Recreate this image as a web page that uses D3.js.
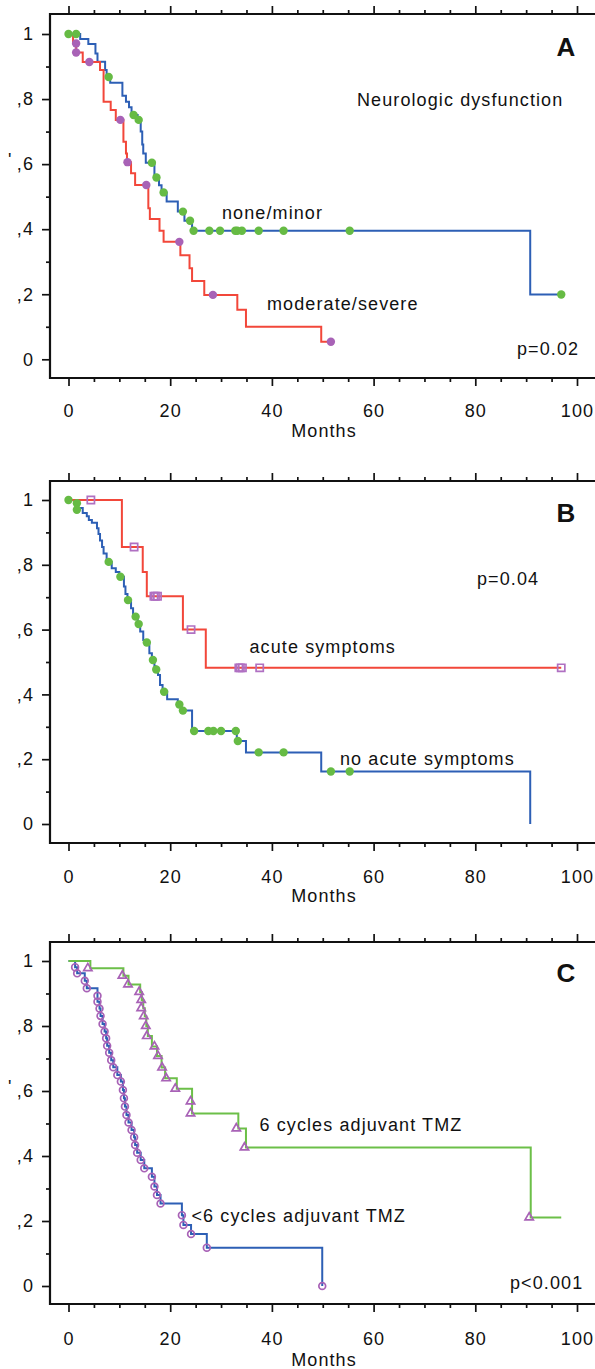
<!DOCTYPE html>
<html><head><meta charset="utf-8">
<script src="https://cdn.jsdelivr.net/npm/d3@7"></script>
<style>
html,body{margin:0;padding:0;background:#fff;}
svg{display:block;font-family:"Liberation Sans",Arial,Helvetica,sans-serif;}
</style></head><body>
<svg id="chart" width="595" height="1369"></svg>
<script>
// ---------- tick labels ----------
const xMajor = [0, 20, 40, 60, 80, 100];
const xTickLabels = ["0", "20", "40", "60", "80", "100"];
const xMinor = [5, 10, 15, 25, 30, 35, 45, 50, 55, 65, 70, 75, 85, 90, 95];
const yMajor = [0, 0.2, 0.4, 0.6, 0.8, 1];
const yTickLabels = ["0", ",2", ",4", ",6", ",8", "1"];
const yMinor = [0.1, 0.3, 0.5, 0.7, 0.9];
const xTitle = "Months";

// ---------- Panel A: neurologic dysfunction ----------
const aNoneT = [0, 2.3, 3.9, 5.3, 5.7, 7.2, 7.5, 8.2, 10.6, 11.3, 11.9, 12.4, 13.6, 14.2, 14.5, 14.7, 15.2, 16.9, 17.8, 18.3, 19.3, 21.5, 22.8, 24.3, 90.8, 96.9];
const aNoneS = [1, 0.985, 0.969, 0.94, 0.915, 0.889, 0.868, 0.85, 0.81, 0.792, 0.775, 0.751, 0.736, 0.70, 0.66, 0.633, 0.604, 0.559, 0.535, 0.513, 0.485, 0.454, 0.426, 0.395, 0.199, 0.199];
const aNoneCensT = [0, 1.5, 7.9, 12.8, 13.8, 16.4, 17.3, 18.7, 22.5, 23.9, 24.6, 27.7, 29.8, 32.8, 33.2, 34.1, 37.4, 42.3, 55.3, 96.9];
const aNoneCensS = [1, 1, 0.868, 0.751, 0.736, 0.604, 0.559, 0.513, 0.454, 0.426, 0.395, 0.395, 0.395, 0.395, 0.395, 0.395, 0.395, 0.395, 0.395, 0.199];
const aModT = [0, 0.9, 1.5, 2.8, 6.2, 6.9, 8.3, 9.3, 10.8, 11.3, 11.5, 12.3, 13.1, 15.7, 16.0, 17.9, 18.7, 22.0, 23.8, 24.3, 26.7, 33.2, 34.9, 49.7, 51.6];
const aModS = [1, 0.971, 0.943, 0.914, 0.889, 0.792, 0.766, 0.736, 0.669, 0.633, 0.606, 0.572, 0.536, 0.464, 0.431, 0.395, 0.361, 0.32, 0.28, 0.241, 0.198, 0.152, 0.1, 0.054, 0.054];
const aModCensT = [1.5, 1.5, 4.1, 10.2, 11.6, 15.3, 21.8, 28.4, 51.6];
const aModCensS = [0.971, 0.943, 0.914, 0.736, 0.606, 0.536, 0.361, 0.198, 0.054];

// ---------- Panel B: acute symptoms ----------
const bNoT = [0, 1.2, 1.6, 2.8, 3.6, 4.0, 4.6, 5.6, 5.9, 6.2, 6.6, 6.9, 7.5, 8.5, 9.3, 10.0, 10.9, 11.2, 11.6, 12.3, 12.7, 13.6, 14.1, 14.7, 15.2, 15.9, 16.4, 16.9, 17.1, 17.6, 18.0, 18.5, 19.4, 21.5, 22.2, 24.3, 33.1, 34.9, 49.7, 90.8];
const bNoS = [1, 0.99, 0.975, 0.96, 0.95, 0.938, 0.93, 0.913, 0.895, 0.875, 0.855, 0.835, 0.809, 0.789, 0.778, 0.763, 0.733, 0.71, 0.691, 0.666, 0.64, 0.617, 0.594, 0.568, 0.56, 0.527, 0.506, 0.487, 0.477, 0.46, 0.429, 0.408, 0.385, 0.369, 0.35, 0.287, 0.256, 0.221, 0.162, 0];
const bNoCensT = [0, 1.65, 1.65, 7.9, 10.2, 11.7, 13.2, 13.8, 15.4, 16.6, 17.25, 18.8, 21.8, 22.5, 24.7, 27.5, 28.5, 30.0, 32.9, 33.3, 37.4, 42.3, 51.6, 55.3];
const bNoCensS = [1, 0.99, 0.97, 0.809, 0.763, 0.691, 0.64, 0.617, 0.56, 0.506, 0.477, 0.408, 0.369, 0.35, 0.287, 0.287, 0.287, 0.287, 0.287, 0.256, 0.221, 0.221, 0.162, 0.162];
const bAcuteT = [0, 10.5, 14.6, 15.4, 22.5, 27.0, 96.9];
const bAcuteS = [1, 0.855, 0.778, 0.703, 0.6, 0.482, 0.482];
const bAcuteCensT = [4.4, 12.9, 16.8, 17.1, 17.5, 24.1, 33.5, 33.8, 34.2, 37.6, 96.9];
const bAcuteCensS = [1, 0.855, 0.703, 0.703, 0.703, 0.6, 0.482, 0.482, 0.482, 0.482, 0.482];

// ---------- Panel C: adjuvant TMZ cycles ----------
const c6T = [0, 4.3, 10.8, 11.8, 14.1, 14.4, 14.7, 15.0, 15.3, 15.6, 16.4, 17.4, 18.3, 19.0, 21.3, 24.3, 33.4, 34.9, 90.9, 96.9];
const c6S = [1, 0.978, 0.955, 0.928, 0.905, 0.88, 0.855, 0.83, 0.8, 0.769, 0.737, 0.708, 0.672, 0.639, 0.607, 0.531, 0.485, 0.426, 0.211, 0.211];
const c6CensT = [3.8, 10.6, 11.7, 13.9, 14.3, 14.3, 14.8, 15.2, 15.4, 16.9, 17.6, 18.4, 19.2, 21.0, 24.0, 24.0, 33.0, 34.6, 90.6];
const c6CensS = [0.978, 0.955, 0.928, 0.905, 0.88, 0.855, 0.83, 0.8, 0.769, 0.737, 0.708, 0.672, 0.639, 0.607, 0.568, 0.531, 0.485, 0.426, 0.211];
const cLtT = [0, 1.3, 1.7, 3.2, 3.6, 5.7, 5.7, 6.1, 6.3, 6.7, 7.1, 7.4, 7.6, 8.0, 8.4, 8.8, 9.6, 10.3, 10.7, 10.9, 11.1, 11.4, 11.8, 12.4, 12.9, 13.1, 13.5, 14.2, 14.9, 16.4, 16.9, 17.4, 18.1, 22.3, 22.6, 24.1, 27.2, 49.9];
const cLtS = [1, 0.981, 0.962, 0.939, 0.916, 0.893, 0.875, 0.854, 0.831, 0.806, 0.783, 0.762, 0.739, 0.718, 0.695, 0.673, 0.649, 0.629, 0.603, 0.578, 0.552, 0.526, 0.503, 0.48, 0.458, 0.434, 0.41, 0.388, 0.362, 0.336, 0.306, 0.28, 0.254, 0.218, 0.188, 0.16, 0.118, 0];

// ---------- colours ----------
const BLUE = "#2d5fb5", RED = "#f2473a", GREEN_LINE = "#6cbf48", GREEN_DOT = "#66bb44", PURPLE = "#a862b6";

const svg = d3.select("#chart");
const x = d3.scaleLinear().domain([0, 100]).range([68.5, 577]);
const FONT = 18, LS = 1.1;

const zip = (T, S) => T.map((t, i) => [t, S[i]]);

const panels = [
  { top: 14, bottom: 378, y0: 359.3, y1: 34, tickBase: 417, monthsBase: 436.5, letter: "A", letterY: 56, mark: true,
    lines: [{ d: zip(aNoneT, aNoneS), c: BLUE }, { d: zip(aModT, aModS), c: RED }],
    marks: [{ d: zip(aNoneCensT, aNoneCensS), type: "dot", c: GREEN_DOT }, { d: zip(aModCensT, aModCensS), type: "dot", c: PURPLE }],
    texts: [["Neurologic dysfunction", 357, 106], ["none/minor", 222, 219], ["moderate/severe", 267, 310], ["p=0.02", 517, 355]] },
  { top: 481, bottom: 843, y0: 824, y1: 500, tickBase: 883, monthsBase: 902, letter: "B", letterY: 522, mark: false,
    lines: [{ d: zip(bNoT, bNoS), c: BLUE }, { d: zip(bAcuteT, bAcuteS), c: RED }],
    marks: [{ d: zip(bNoCensT, bNoCensS), type: "dot", c: GREEN_DOT }, { d: zip(bAcuteCensT, bAcuteCensS), type: "square", c: "#b070c2" }],
    texts: [["p=0.04", 477, 585], ["acute symptoms", 249.5, 653], ["no acute symptoms", 340, 765]] },
  { top: 942, bottom: 1304, y0: 1286, y1: 961, tickBase: 1345, monthsBase: 1366, letter: "C", letterY: 982, mark: true,
    lines: [{ d: zip(cLtT, cLtS), c: BLUE }, { d: zip(c6T, c6S), c: GREEN_LINE }],
    marks: [{ d: zip(cLtT, cLtS).slice(1), type: "ring", c: PURPLE }, { d: zip(c6CensT, c6CensS), type: "tri", c: PURPLE }],
    texts: [["6 cycles adjuvant TMZ", 259.5, 1131], ["<6 cycles adjuvant TMZ", 191.5, 1222], ["p<0.001", 510, 1289]] }
];

function styleAxis(g) {
  g.attr("font-size", null).attr("font-family", null);
  g.select(".domain").remove();
  g.selectAll(".tick line").attr("stroke", "#111").attr("stroke-width", 1.7);
}

panels.forEach(p => {
  const g = svg.append("g");
  const y = d3.scaleLinear().domain([0, 1]).range([p.y0, p.y1]);

  // frame lines
  g.append("line").attr("x1", 50).attr("x2", 50).attr("y1", p.top - 1).attr("y2", p.bottom + 1).attr("stroke", "#111").attr("stroke-width", 2.2);
  g.append("line").attr("x1", 49).attr("x2", 595).attr("y1", p.top).attr("y2", p.top).attr("stroke", "#111").attr("stroke-width", 2.2);
  g.append("line").attr("x1", 49).attr("x2", 595).attr("y1", p.bottom).attr("y2", p.bottom).attr("stroke", "#111").attr("stroke-width", 2.2);

  // bottom axis
  const bm = g.append("g").attr("transform", `translate(0,${p.bottom})`)
    .call(d3.axisBottom(x).tickValues(xMajor).tickSize(8).tickFormat((d, i) => xTickLabels[i]));
  styleAxis(bm);
  bm.selectAll("text").attr("y", p.tickBase - p.bottom).attr("dy", null)
    .attr("fill", "#111").style("font-size", FONT + "px").style("letter-spacing", LS + "px");
  const bn = g.append("g").attr("transform", `translate(0,${p.bottom})`)
    .call(d3.axisBottom(x).tickValues(xMinor).tickSize(4).tickFormat(""));
  styleAxis(bn);

  // top axis (ticks only)
  const tm = g.append("g").attr("transform", `translate(0,${p.top})`)
    .call(d3.axisTop(x).tickValues(xMajor).tickSize(8).tickFormat(""));
  styleAxis(tm);
  const tn = g.append("g").attr("transform", `translate(0,${p.top})`)
    .call(d3.axisTop(x).tickValues(xMinor).tickSize(4).tickFormat(""));
  styleAxis(tn);

  // left axis
  const lm = g.append("g").attr("transform", "translate(50,0)")
    .call(d3.axisLeft(y).tickValues(yMajor).tickSize(8).tickFormat((d, i) => yTickLabels[i]));
  styleAxis(lm);
  lm.selectAll("text").attr("x", -16).attr("fill", "#111").style("font-size", FONT + "px").style("letter-spacing", LS + "px");
  const ln = g.append("g").attr("transform", "translate(50,0)")
    .call(d3.axisLeft(y).tickValues(yMinor).tickSize(4).tickFormat(""));
  styleAxis(ln);

  // clipped y-axis title remnant
  if (p.mark) {
    g.append("text").attr("x", 8).attr("y", y(0.6) + 2).text("'")
      .style("font-size", FONT + "px").attr("fill", "#111");
  }

  // x title
  g.append("text").attr("x", 324).attr("y", p.monthsBase).attr("text-anchor", "middle")
    .text(xTitle).style("font-size", FONT + "px").style("letter-spacing", LS + "px").attr("fill", "#111");

  // curves
  const line = d3.line().x(d => x(d[0])).y(d => y(d[1])).curve(d3.curveStepAfter);
  p.lines.forEach(l => {
    g.append("path").datum(l.d).attr("d", line).attr("fill", "none")
      .attr("stroke", l.c).attr("stroke-width", 2).attr("stroke-linejoin", "miter");
  });

  // markers
  p.marks.forEach(m => {
    const sel = g.append("g").selectAll("path").data(m.d).enter();
    if (m.type === "dot") {
      sel.append("circle").attr("cx", d => x(d[0])).attr("cy", d => y(d[1])).attr("r", 4.2).attr("fill", m.c);
    } else if (m.type === "ring") {
      sel.append("circle").attr("cx", d => x(d[0])).attr("cy", d => y(d[1])).attr("r", 3.4)
        .attr("fill", "none").attr("stroke", m.c).attr("stroke-width", 1.7);
    } else if (m.type === "square") {
      sel.append("path").attr("d", d3.symbol(d3.symbolSquare, 52))
        .attr("transform", d => `translate(${x(d[0])},${y(d[1])})`)
        .attr("fill", "none").attr("stroke", m.c).attr("stroke-width", 1.7);
    } else if (m.type === "tri") {
      sel.append("path").attr("d", d3.symbol(d3.symbolTriangle, 30))
        .attr("transform", d => `translate(${x(d[0])},${y(d[1])})`)
        .attr("fill", "none").attr("stroke", m.c).attr("stroke-width", 1.7);
    }
  });

  // annotations
  p.texts.forEach(t => {
    g.append("text").attr("x", t[1]).attr("y", t[2]).text(t[0])
      .style("font-size", FONT + "px").style("letter-spacing", LS + "px").attr("fill", "#111");
  });
  g.append("text").attr("x", 566).attr("y", p.letterY).attr("text-anchor", "middle")
    .text(p.letter).style("font-size", "26px").style("font-weight", "bold").attr("fill", "#111");
});
</script></body></html>
